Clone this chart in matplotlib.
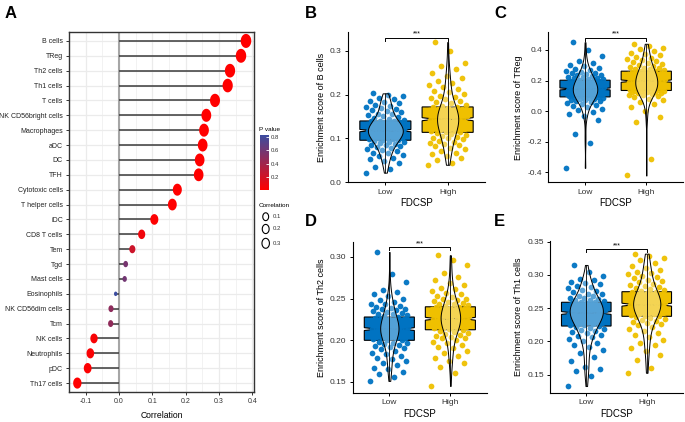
import numpy as np
import matplotlib
matplotlib.use("Agg")
import matplotlib.pyplot as plt
from matplotlib.colors import LinearSegmentedColormap

plt.rcParams["font.family"] = ["Liberation Sans", "DejaVu Sans"]
plt.rcParams["axes.unicode_minus"] = False

# ---------------- panel A data ----------------
cells = ["B cells", "TReg", "Th2 cells", "Th1 cells", "T cells", "NK CD56bright cells",
         "Macrophages", "aDC", "DC", "TFH", "Cytotoxic cells", "T helper cells", "iDC",
         "CD8 T cells", "Tem", "Tgd", "Mast cells", "Eosinophils", "NK CD56dim cells",
         "Tcm", "NK cells", "Neutrophils", "pDC", "Th17 cells"]
corr = [0.381, 0.366, 0.333, 0.326, 0.288, 0.262, 0.255, 0.251, 0.242, 0.239, 0.175,
        0.160, 0.106, 0.068, 0.040, 0.020, 0.017, -0.010, -0.024, -0.025, -0.075,
        -0.086, -0.094, -0.125]
pval = [1e-12, 1e-11, 1e-10, 1e-10, 1e-8, 1e-7, 1e-7, 1e-7, 1e-6, 1e-6, 1e-4, 4e-4,
        0.01, 0.06, 0.22, 0.58, 0.60, 0.835, 0.48, 0.47, 0.03, 0.02, 0.01, 0.002]
size_legend = [0.1, 0.2, 0.3]
pval_ticks = [0.2, 0.4, 0.6, 0.8]

# ---------------- panels B-E data ----------------
groups = ["Low", "High"]
group_colors = ["#0073C2", "#EFC000"]

b_low = [0.022, 0.031, 0.036, 0.043, 0.048, 0.053, 0.056, 0.060, 0.063, 0.066, 0.068, 0.071, 0.073,
         0.075, 0.078, 0.080, 0.082, 0.084, 0.086, 0.088, 0.089, 0.091, 0.093, 0.094, 0.096,
         0.097, 0.098, 0.099, 0.100, 0.101, 0.102, 0.103, 0.104, 0.105, 0.106, 0.107, 0.107, 0.108,
         0.109, 0.110, 0.111, 0.112, 0.113, 0.113, 0.114, 0.115, 0.116, 0.116, 0.117, 0.118,
         0.119, 0.119, 0.120, 0.121, 0.122, 0.122, 0.123, 0.124, 0.125, 0.126, 0.127, 0.127, 0.128,
         0.129, 0.130, 0.131, 0.132, 0.133, 0.134, 0.135, 0.136, 0.137, 0.138, 0.139, 0.140,
         0.141, 0.143, 0.145, 0.147, 0.149, 0.151, 0.153, 0.155, 0.157, 0.160, 0.162, 0.164, 0.167,
         0.169, 0.172, 0.174, 0.177, 0.180, 0.183, 0.186, 0.189, 0.192, 0.196, 0.200, 0.203]
b_high = [0.040, 0.045, 0.050, 0.055, 0.060, 0.064, 0.068, 0.072, 0.076, 0.079, 0.082, 0.085, 0.088,
          0.090, 0.093, 0.095, 0.098, 0.100, 0.102, 0.104, 0.106, 0.108, 0.110, 0.112, 0.114,
          0.115, 0.117, 0.118, 0.120, 0.121, 0.122, 0.124, 0.125, 0.126, 0.128, 0.129, 0.130, 0.131,
          0.133, 0.134, 0.135, 0.136, 0.137, 0.138, 0.139, 0.140, 0.141, 0.142, 0.143, 0.144,
          0.145, 0.146, 0.147, 0.148, 0.150, 0.151, 0.152, 0.153, 0.154, 0.155, 0.156, 0.158, 0.159,
          0.160, 0.161, 0.162, 0.163, 0.164, 0.165, 0.166, 0.167, 0.168, 0.169, 0.171, 0.172,
          0.174, 0.177, 0.180, 0.183, 0.186, 0.189, 0.192, 0.195, 0.198, 0.201, 0.205, 0.209, 0.213,
          0.217, 0.221, 0.226, 0.231, 0.237, 0.243, 0.250, 0.258, 0.265, 0.272, 0.300, 0.320]
c_low = [-0.370, -0.210, -0.150, -0.055, -0.035, -0.020, -0.008, 0.005, 0.015, 0.024, 0.032, 0.040,
         0.047, 0.053, 0.058, 0.063, 0.067, 0.071, 0.075, 0.079, 0.082, 0.085, 0.088, 0.091, 0.093,
         0.095, 0.097, 0.099, 0.101, 0.103, 0.105, 0.107, 0.109, 0.111, 0.113, 0.115, 0.117, 0.119,
         0.121, 0.123, 0.125, 0.127, 0.129, 0.131, 0.133, 0.135, 0.137, 0.139, 0.142, 0.145,
         0.147, 0.149, 0.151, 0.153, 0.155, 0.157, 0.159, 0.161, 0.163, 0.165, 0.167, 0.170, 0.172,
         0.174, 0.177, 0.179, 0.182, 0.184, 0.187, 0.189, 0.192, 0.194, 0.197, 0.199, 0.202,
         0.205, 0.208, 0.211, 0.214, 0.218, 0.221, 0.225, 0.229, 0.233, 0.237, 0.241, 0.246, 0.251,
         0.256, 0.262, 0.268, 0.275, 0.283, 0.292, 0.302, 0.315, 0.330, 0.360, 0.400, 0.450]
c_high = [-0.420, -0.310, -0.070, -0.040, 0.000, 0.025, 0.045, 0.060, 0.072, 0.082, 0.090, 0.097,
          0.103, 0.108, 0.112, 0.116, 0.119, 0.122, 0.125, 0.127, 0.129, 0.131, 0.133, 0.134, 0.135,
          0.138, 0.140, 0.143, 0.145, 0.148, 0.150, 0.153, 0.155, 0.158, 0.160, 0.163, 0.165, 0.168,
          0.170, 0.173, 0.175, 0.178, 0.180, 0.183, 0.185, 0.188, 0.190, 0.192, 0.194, 0.196,
          0.199, 0.201, 0.204, 0.206, 0.209, 0.211, 0.214, 0.216, 0.219, 0.221, 0.224, 0.226, 0.229,
          0.231, 0.234, 0.236, 0.239, 0.241, 0.244, 0.247, 0.250, 0.252, 0.255, 0.258, 0.261,
          0.264, 0.268, 0.272, 0.276, 0.280, 0.285, 0.290, 0.295, 0.300, 0.306, 0.312, 0.318, 0.325,
          0.332, 0.340, 0.348, 0.356, 0.365, 0.374, 0.383, 0.393, 0.403, 0.414, 0.428, 0.440]
d_low = [0.151, 0.156, 0.159, 0.162, 0.165, 0.167, 0.170, 0.172, 0.175, 0.177, 0.179, 0.181, 0.183,
         0.185, 0.187, 0.189, 0.190, 0.192, 0.193, 0.194, 0.195, 0.196, 0.197, 0.198, 0.200,
         0.200, 0.201, 0.202, 0.202, 0.203, 0.204, 0.204, 0.205, 0.206, 0.206, 0.207, 0.208, 0.208,
         0.209, 0.209, 0.210, 0.210, 0.211, 0.211, 0.212, 0.212, 0.212, 0.213, 0.213, 0.213,
         0.214, 0.214, 0.215, 0.215, 0.216, 0.216, 0.217, 0.217, 0.218, 0.218, 0.219, 0.219, 0.220,
         0.220, 0.221, 0.222, 0.222, 0.223, 0.224, 0.224, 0.225, 0.226, 0.226, 0.227, 0.228,
         0.229, 0.230, 0.231, 0.232, 0.233, 0.234, 0.235, 0.236, 0.237, 0.238, 0.239, 0.240, 0.241,
         0.243, 0.244, 0.246, 0.248, 0.250, 0.253, 0.255, 0.258, 0.260, 0.270, 0.280, 0.306]
d_high = [0.145, 0.160, 0.168, 0.172, 0.175, 0.178, 0.181, 0.184, 0.187, 0.190, 0.192, 0.194, 0.196,
          0.198, 0.200, 0.202, 0.203, 0.204, 0.205, 0.206, 0.207, 0.209, 0.210, 0.211, 0.212,
          0.213, 0.214, 0.214, 0.215, 0.216, 0.216, 0.217, 0.218, 0.218, 0.219, 0.219, 0.220, 0.220,
          0.221, 0.221, 0.222, 0.222, 0.223, 0.223, 0.224, 0.224, 0.225, 0.225, 0.225, 0.226,
          0.226, 0.227, 0.227, 0.228, 0.229, 0.229, 0.230, 0.230, 0.231, 0.232, 0.232, 0.233, 0.233,
          0.234, 0.235, 0.235, 0.236, 0.236, 0.237, 0.238, 0.238, 0.239, 0.239, 0.240, 0.240,
          0.241, 0.242, 0.243, 0.244, 0.245, 0.246, 0.247, 0.248, 0.249, 0.250, 0.252, 0.253, 0.255,
          0.257, 0.259, 0.261, 0.263, 0.266, 0.269, 0.272, 0.276, 0.281, 0.290, 0.296, 0.302]
e_low = [0.133, 0.148, 0.155, 0.158, 0.162, 0.170, 0.176, 0.182, 0.187, 0.191, 0.195, 0.198, 0.201,
         0.204, 0.206, 0.208, 0.210, 0.212, 0.214, 0.215, 0.217, 0.218, 0.220, 0.221, 0.223,
         0.224, 0.225, 0.226, 0.227, 0.228, 0.229, 0.230, 0.231, 0.232, 0.233, 0.234, 0.234, 0.235,
         0.236, 0.237, 0.237, 0.238, 0.239, 0.239, 0.240, 0.241, 0.241, 0.242, 0.242, 0.243,
         0.243, 0.244, 0.245, 0.245, 0.246, 0.247, 0.247, 0.248, 0.249, 0.249, 0.250, 0.251, 0.251,
         0.252, 0.253, 0.253, 0.254, 0.255, 0.255, 0.256, 0.257, 0.257, 0.258, 0.258, 0.259,
         0.260, 0.261, 0.262, 0.263, 0.264, 0.265, 0.266, 0.268, 0.269, 0.271, 0.272, 0.274, 0.276,
         0.278, 0.280, 0.282, 0.284, 0.286, 0.288, 0.290, 0.292, 0.294, 0.298, 0.305, 0.315]
e_high = [0.153, 0.160, 0.172, 0.180, 0.186, 0.190, 0.194, 0.198, 0.202, 0.206, 0.210, 0.213, 0.216,
          0.219, 0.222, 0.224, 0.226, 0.228, 0.230, 0.231, 0.233, 0.234, 0.235, 0.237, 0.238,
          0.239, 0.240, 0.241, 0.242, 0.243, 0.243, 0.244, 0.245, 0.246, 0.247, 0.247, 0.248, 0.249,
          0.250, 0.250, 0.251, 0.252, 0.252, 0.253, 0.253, 0.254, 0.254, 0.255, 0.255, 0.255,
          0.256, 0.257, 0.258, 0.258, 0.259, 0.260, 0.261, 0.262, 0.262, 0.263, 0.264, 0.265, 0.266,
          0.266, 0.267, 0.268, 0.269, 0.270, 0.270, 0.271, 0.272, 0.272, 0.273, 0.274, 0.275,
          0.276, 0.277, 0.279, 0.280, 0.282, 0.283, 0.285, 0.287, 0.289, 0.291, 0.293, 0.295, 0.297,
          0.299, 0.301, 0.303, 0.305, 0.308, 0.311, 0.314, 0.318, 0.322, 0.326, 0.329, 0.332]

# box stats: [q1, median, q3] and notch half-height
b_box = [[0.096, 0.118, 0.140], [0.114, 0.144, 0.172]]
c_box = [[0.093, 0.145, 0.202], [0.135, 0.196, 0.261]]
d_box = [[0.1998, 0.2133, 0.2278], [0.2125, 0.2257, 0.2401]]
e_box = [[0.2232, 0.2428, 0.2589], [0.2378, 0.2553, 0.2748]]
b_notch = [0.0026, 0.0035]
c_notch = [0.0065, 0.0076]
d_notch = [0.0017, 0.0017]
e_notch = [0.0021, 0.0022]

panels = [
    dict(ylabel="Enrichment score of B cells", data=[b_low, b_high], box=b_box,
         notch=b_notch, ylim=(0.0, 0.343), yticks=[0.0, 0.1, 0.2, 0.3], fmt="%.1f",
         rect=(348, 32, 485, 182.3), vw=[0.56, 0.34]),
    dict(ylabel="Enrichment score of TReg", data=[c_low, c_high], box=c_box,
         notch=c_notch, ylim=(-0.465, 0.515), yticks=[-0.4, -0.2, 0.0, 0.2, 0.4], fmt="%.1f",
         rect=(548.3, 32.3, 683, 182.3), vw=[0.40, 0.36]),
    dict(ylabel="Enrichment score of Th2 cells", data=[d_low, d_high], box=d_box,
         notch=d_notch, ylim=(0.1368, 0.318), yticks=[0.15, 0.20, 0.25, 0.30], fmt="%.2f",
         rect=(352.7, 242, 487, 392.7), vw=[0.30, 0.32]),
    dict(ylabel="Enrichment score of Th1 cells", data=[e_low, e_high], box=e_box,
         notch=e_notch, ylim=(0.123, 0.351), yticks=[0.15, 0.20, 0.25, 0.30, 0.35], fmt="%.2f",
         rect=(550, 241, 683, 392.7), vw=[0.55, 0.45]),
]

W, H = 685, 422
fig = plt.figure(figsize=(W / 100, H / 100), dpi=100)


def px_axes(l, t, r, b):
    return fig.add_axes([l / W, 1 - b / H, (r - l) / W, (b - t) / H])


# ---------------- panel A ----------------
ax = px_axes(69, 32, 254, 392)
n = len(cells)
ypos = np.arange(n)[::-1]
corr_a = np.array(corr)
cmap = LinearSegmentedColormap.from_list("pv", ["#FF0000", "#3B4CA0"])
t = np.linspace(0, 2 * np.pi, 60)
ellipse = np.column_stack([0.75 * np.cos(t), np.sin(t)])


def dot_size(r):
    h_px = 4.5 + 2.62 * np.log(np.abs(np.asarray(r)) / 0.01)
    return (h_px * 0.72) ** 2


ax.hlines(ypos, 0, corr_a, color="#3a3a3a", lw=1.1, zorder=2)
ax.axvline(0, color="#a6a6a6", lw=1.5, zorder=1.5)
sc = ax.scatter(corr_a, ypos, s=dot_size(corr_a), c=pval, cmap=cmap,
                vmin=0, vmax=max(pval), marker=ellipse, linewidths=0, zorder=3)
ax.set_xlim(-0.15, 0.405)
ax.set_ylim(-0.6, n - 0.4)
ax.set_xticks([-0.1, 0.0, 0.1, 0.2, 0.3, 0.4])
ax.set_xticks([-0.15, -0.05, 0.05, 0.15, 0.25, 0.35], minor=True)
ax.set_xticklabels(["-0.1", "0.0", "0.1", "0.2", "0.3", "0.4"], fontsize=5.0, color="#333333")
ax.set_yticks(ypos)
ax.set_yticklabels(cells, fontsize=5.0, color="#222222")
ax.grid(which="major", color="#ebebeb", lw=0.9)
ax.grid(which="minor", axis="x", color="#f0f0f0", lw=0.6)
ax.set_axisbelow(True)
ax.tick_params(axis="both", which="major", length=2.5, width=0.7, pad=2, color="#333333")
ax.tick_params(axis="x", which="minor", length=0)
for s in ax.spines.values():
    s.set_color("#333333")
    s.set_linewidth(1.0)
ax.set_xlabel("Correlation", fontsize=6.2, labelpad=4)

# colour bar legend
cax = px_axes(259.5, 135, 269, 190)
cb = fig.colorbar(sc, cax=cax)
cb.set_ticks(pval_ticks)
cb.ax.tick_params(labelsize=4.3, length=2, width=0.6, color="white", direction="in", pad=1.5,
                  labelcolor="#333333")
cb.outline.set_visible(False)
fig.text(259 / W, 1 - 131 / H, "P value", fontsize=4.6, va="baseline")

# size legend
lax = px_axes(255, 198, 300, 255)
lax.set_xlim(255, 300)
lax.set_ylim(255, 198)
lax.axis("off")
fig.text(259 / W, 1 - 207 / H, "Correlation", fontsize=4.6, va="baseline")
for k, v in enumerate(size_legend):
    yy = [216.7, 229, 243.3][k]
    lax.scatter([265.7], [yy], s=dot_size(v) * 0.55, marker=ellipse, facecolors="none",
                edgecolors="black", linewidths=0.8)
    lax.text(273, yy, "%.1f" % v, fontsize=4.3, va="center", color="#333333")

# ---------------- panels B-E ----------------
positions = [1, 2]
for p in panels:
    axp = px_axes(*p["rect"])
    stats = []
    for g in range(2):
        q1, med, q3 = p["box"][g]
        stats.append(dict(med=med, q1=q1, q3=q3, whislo=q1, whishi=q3,
                          cilo=med - p["notch"][g], cihi=med + p["notch"][g], fliers=[]))
    bp = axp.bxp(stats, positions=positions, widths=0.82, shownotches=True, showcaps=False,
                 showfliers=False, patch_artist=True,
                 boxprops=dict(edgecolor="black", linewidth=0.8),
                 medianprops=dict(color="black", linewidth=1.4),
                 whiskerprops=dict(linewidth=0), zorder=2)
    for patch, col in zip(bp["boxes"], group_colors):
        patch.set_facecolor(col)
    for g in range(2):
        vals = np.array(p["data"][g])
        k = np.arange(len(vals))
        off = ((k * 0.618034) % 1 - 0.5) * 2 * 0.31
        axp.scatter(positions[g] + off, vals, s=17, color=group_colors[g], alpha=0.95,
                    linewidths=0, zorder=3)
        vp = axp.violinplot(vals, positions=[positions[g]], widths=p["vw"][g],
                            showextrema=False)
        for body in vp["bodies"]:
            body.set_alpha(None)
            body.set_facecolor((1, 1, 1, 0.33))
            body.set_edgecolor("black")
            body.set_linewidth(0.7)
            body.set_zorder(4)
        axp.vlines(positions[g], vals.min(), vals.max(), color="black", lw=0.6, zorder=5)
    lo, hi = p["ylim"]
    top = max(max(p["data"][0]), max(p["data"][1])) + 0.03 * (hi - lo)
    d = 0.02 * (hi - lo)
    axp.plot([1, 1, 2, 2], [top - d, top, top, top - d], color="black", lw=0.7, zorder=6)
    axp.text(1.5, top, "***", ha="center", va="bottom", fontsize=5)
    axp.set_xlim(0.4, 2.6)
    axp.set_ylim(lo, hi)
    axp.set_xticks(positions)
    axp.set_xticklabels(groups, fontsize=6, color="#333333")
    axp.set_yticks(p["yticks"])
    axp.set_yticklabels([p["fmt"] % v for v in p["yticks"]], fontsize=6, color="#333333")
    axp.set_xlabel("FDCSP", fontsize=7, labelpad=2)
    axp.set_ylabel(p["ylabel"], fontsize=6.5, labelpad=3)
    axp.spines["top"].set_visible(False)
    axp.spines["right"].set_visible(False)
    for s in ["left", "bottom"]:
        axp.spines[s].set_linewidth(0.8)
    axp.tick_params(length=2.5, width=0.7, pad=2)

# panel letters
for letter, x, y in [("A", 5, 6), ("B", 305, 6), ("C", 494, 6), ("D", 305, 214), ("E", 494, 214)]:
    fig.text(x / W, 1 - y / H, letter, fontsize=12, fontweight="bold", va="top", ha="left")

fig.savefig("out.png", dpi=100)
